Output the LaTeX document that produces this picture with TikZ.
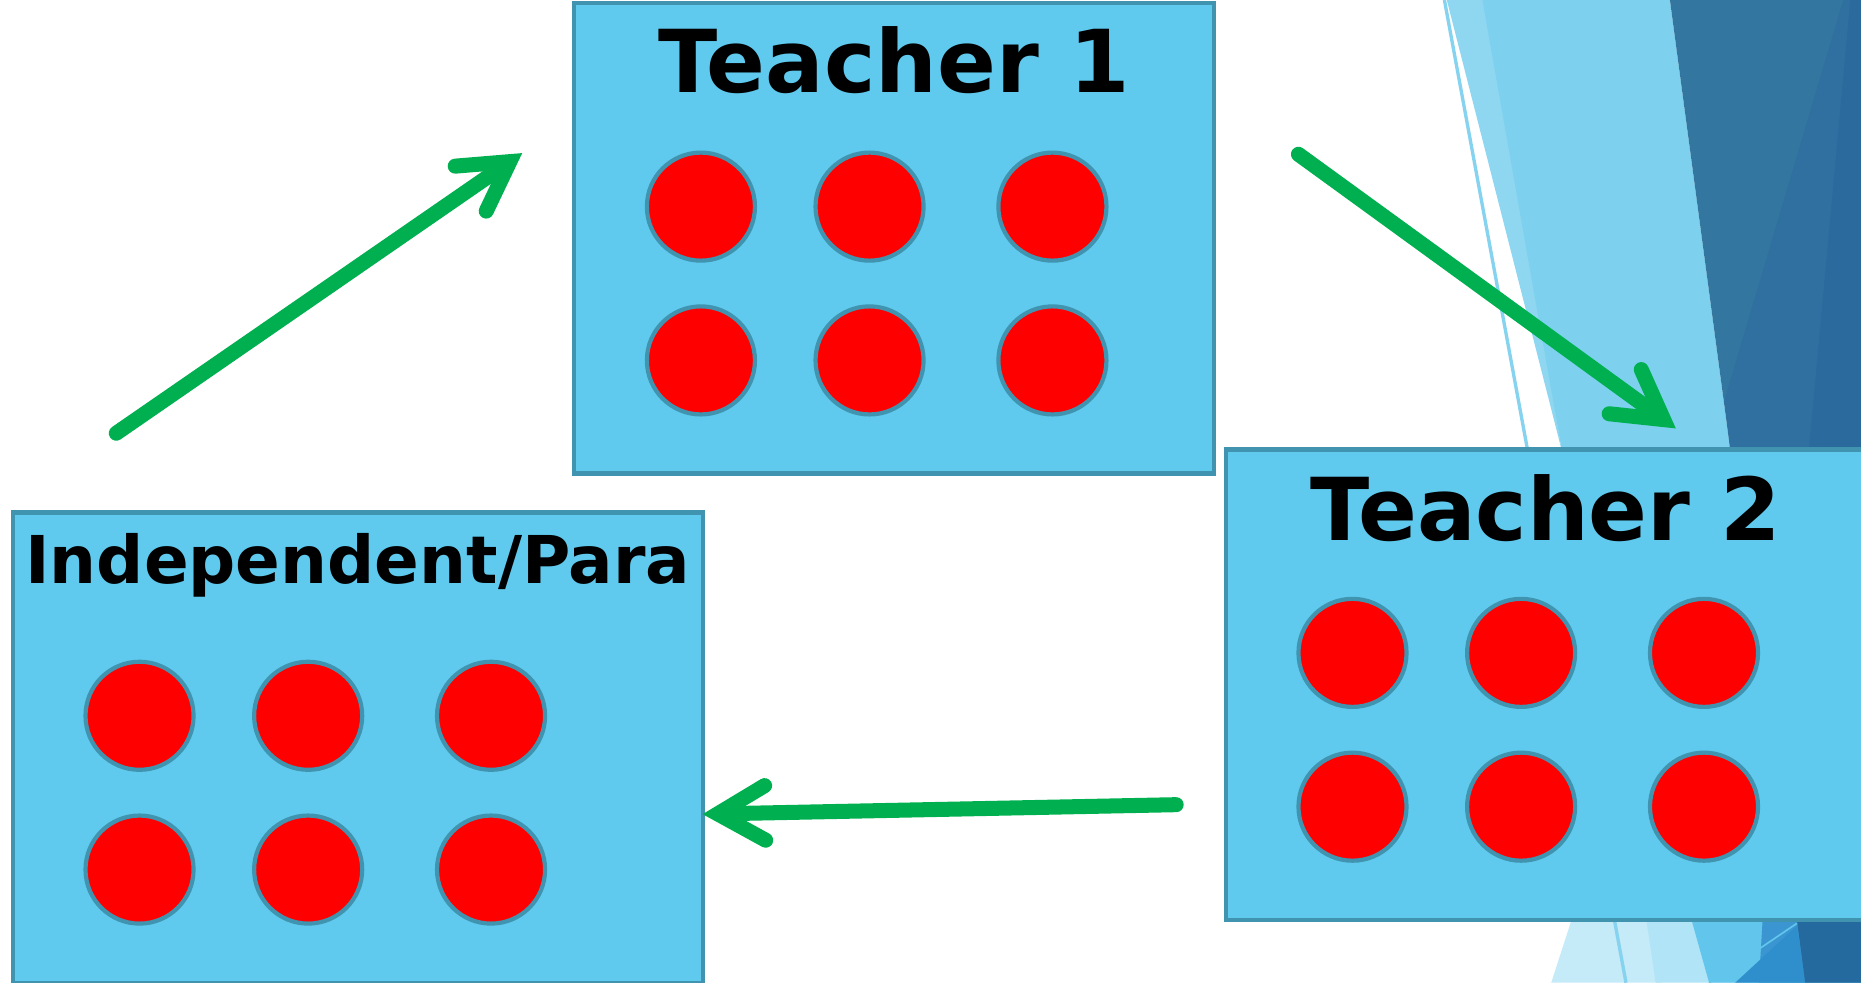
\documentclass[tikz,border=0pt]{standalone}
\usepackage{fontspec}
\setmainfont{DejaVu Sans}
\usepackage{tikz}
\usetikzlibrary{
  arrows.meta,
  positioning,
  calc
}
\definecolor{boxblue}{HTML}{5FCAEE}
\definecolor{edgeblue}{HTML}{4094B0}
\definecolor{arrowgreen}{HTML}{00B050}
\definecolor{facetpale}{HTML}{8FD7F1}
\definecolor{facetsky}{HTML}{7DD1EE}
\definecolor{facetdeep}{HTML}{33769F}
\definecolor{facetdeeper}{HTML}{2F70A1}
\definecolor{facetdeepest}{HTML}{2A6A9D}
\definecolor{facetfoam}{HTML}{C5EAF8}
\definecolor{facetmist}{HTML}{B0E4F6}
\definecolor{facetwater}{HTML}{62C6EC}
\definecolor{facetsea}{HTML}{3A95D0}
\definecolor{facetbright}{HTML}{2F8FCD}
\definecolor{facetnight}{HTML}{246A9E}
\definecolor{facetline}{HTML}{86D3F0}
\tikzset{
  group/.style=
  {
    draw=edgeblue,
    fill=boxblue,
    line width=1pt,
    anchor=north west,
    inner sep=0pt
  },
  student/.style=
  {
    circle,
    draw=edgeblue,
    fill=red,
    line width=1pt,
    minimum size=0.91cm,
    inner sep=0pt
  },
  grouptitle/.style=
  {
    font=\bfseries\fontsize{20.8pt}{24pt}\selectfont,
    anchor=base,
    inner sep=0pt
  },
  rotation/.style=
  {
    draw=arrowgreen,
    line width=3.6pt,
    line cap=round,
    -{Straight Barb[length=4mm, width=4.6mm, line join=miter, line cap=round]}
  }
}

\begin{document}
\begin{tikzpicture}[x=0.01cm, y=-0.01cm]
  \clip (0,0) rectangle (1568,828);
  \fill[white] (0,0) rectangle (1568,828);

  \fill[facetpale] (1219,0) -- (1252,0) -- (1316,380) -- cycle;
  \fill[facetsky] (1249,0) -- (1407,0) -- (1458,380) -- (1316,380) -- cycle;
  \fill[facetdeep] (1407,0) -- (1568,0) -- (1568,380) -- (1458,380) -- cycle;
  \fill[facetdeeper] (1553,0) -- (1568,0) -- (1568,380) -- (1458,380) -- (1453,337) -- cycle;
  \fill[facetdeepest] (1559,0) -- (1568,0) -- (1568,380) -- (1524,380) -- cycle;
  \fill[facetfoam] (1329,760) -- (1400,760) -- (1400,828) -- (1307,828) -- cycle;
  \fill[facetmist] (1385,760) -- (1568,760) -- (1568,828) -- (1395,828) -- cycle;
  \fill[facetwater] (1421,760) -- (1568,760) -- (1568,828) -- (1440,828) -- cycle;
  \fill[facetsea] (1486,760) -- (1568,760) -- (1568,828) -- (1482,828) -- cycle;
  \fill[facetbright] (1514,780) -- (1521,828) -- (1462,828) -- cycle;
  \fill[facetnight] (1512,760) -- (1568,760) -- (1568,828) -- (1521,828) -- cycle;
  \draw[facetline, line width=0.8pt] (1217,0) -- (1370,828);
  \draw[facetwater, line width=0.4pt] (1440,828) -- (1514,778);

  \node[group, minimum width=5.39cm, minimum height=3.96cm] (teacherone) at (482,1) {};
  \node[group, minimum width=5.39cm, minimum height=3.96cm] (teachertwo) at (1031,377) {};
  \node[group, minimum width=5.81cm, minimum height=3.96cm] (indep) at (9,430) {};

  \node[grouptitle] (teacheronetitle) at ([yshift=-0.77cm]teacherone.north) {Teacher 1};
  \node[grouptitle] (teachertwotitle) at ([yshift=-0.78cm]teachertwo.north) {Teacher 2};
  \node[grouptitle, font=\bfseries\fontsize{15.8pt}{19pt}\selectfont] (indeptitle) at ([yshift=-0.62cm]indep.north) {Independent/Para};

  \foreach \grp in {teacherone, teachertwo, indep}
    \foreach \col/\dx in {1/1.085, 2/2.505, 3/4.045}
      \foreach \row/\dy in {1/1.73, 2/3.025}
        \node[student] (\grp-\row\col) at ([shift={(\dx cm,-\dy cm)}]\grp.north west) {};

  \coordinate (tailone) at (98,365);
  \coordinate (tipone) at (440,129);
  \coordinate (tailtwo) at (1094,130);
  \coordinate (tiptwo) at (1412,361);
  \coordinate (tailthree) at (991,678);
  \coordinate (tipthree) at (592,686);
  \draw[rotation] (tailone) -- (tipone);
  \draw[rotation] (tailtwo) -- (tiptwo);
  \draw[rotation] (tailthree) -- (tipthree);
\end{tikzpicture}
\end{document}
